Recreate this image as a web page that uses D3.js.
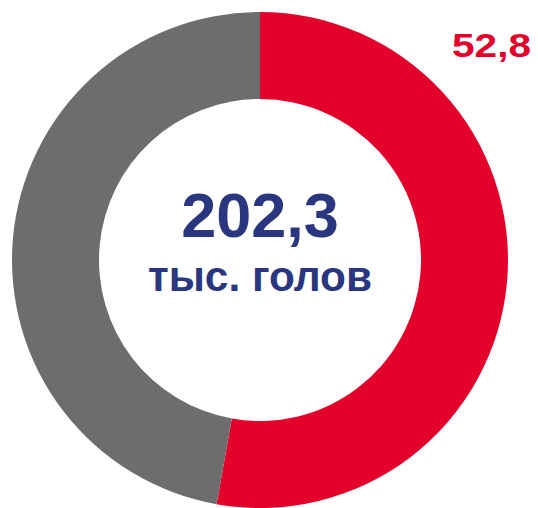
<!DOCTYPE html>
<html>
<head>
<meta charset="utf-8">
<script src="https://cdn.jsdelivr.net/npm/d3@7"></script>
<style>
  html, body { margin: 0; padding: 0; background: #ffffff; }
  svg { display: block; }
</style>
</head>
<body>
<svg id="chart" width="538" height="508"></svg>
<script>
const categories = ["share", "rest"];
const values = [52.8, 47.2];
const colors = ["#e3002b", "#6d6d6d"];
const valueLabel = "52,8";
const totalLabel = "202,3";
const unitLabel = "тыс. голов";

const svg = d3.select("#chart");
const cx = 260, cy = 260, outerR = 248, innerR = 161;

const pie = d3.pie().sort(null).value(d => d.v).startAngle(0).endAngle(2 * Math.PI);
const arc = d3.arc().innerRadius(innerR).outerRadius(outerR);
const data = categories.map((c, i) => ({ c, v: values[i], color: colors[i] }));

const g = svg.append("g").attr("transform", `translate(${cx},${cy})`);
g.selectAll("path").data(pie(data)).join("path")
  .attr("d", arc)
  .attr("fill", d => d.data.color);

svg.append("text")
  .attr("x", 452).attr("y", 57)
  .attr("font-family", "Liberation Sans, Arial, sans-serif")
  .attr("font-weight", "bold")
  .attr("font-size", 33)
  .attr("textLength", 79)
  .attr("lengthAdjust", "spacingAndGlyphs")
  .attr("fill", colors[0])
  .text(valueLabel);

svg.append("text")
  .attr("x", cx).attr("y", 237)
  .attr("text-anchor", "middle")
  .attr("font-family", "Liberation Sans, Arial, sans-serif")
  .attr("font-weight", "bold")
  .attr("font-size", 63)
  .attr("fill", "#2a3680")
  .text(totalLabel);

svg.append("text")
  .attr("x", cx).attr("y", 291)
  .attr("text-anchor", "middle")
  .attr("font-family", "Liberation Sans, Arial, sans-serif")
  .attr("font-weight", "bold")
  .attr("font-size", 42)
  .attr("textLength", 224)
  .attr("lengthAdjust", "spacingAndGlyphs")
  .attr("fill", "#2a3680")
  .text(unitLabel);
</script>
</body>
</html>
